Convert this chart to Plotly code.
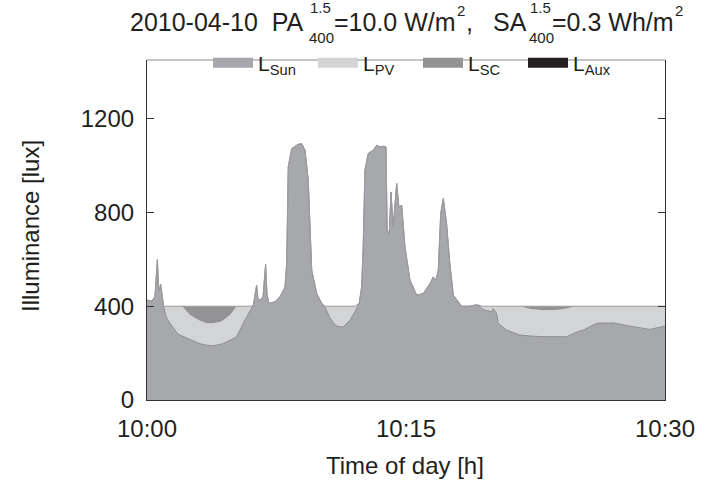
import plotly.graph_objects as go

# minutes after 10:00
t_min = [0.00, 0.27, 0.46, 0.60, 0.67, 0.71, 0.79, 0.91, 0.96, 1.10, 1.33, 1.81, 1.97, 2.10,
         2.49, 2.78, 3.07, 3.46, 3.75, 3.82, 4.23, 4.42, 4.81, 5.19, 5.67, 6.06, 6.16, 6.35,
         6.43, 6.54, 6.72, 6.87, 6.95, 7.06, 7.41, 7.70, 7.89, 7.99, 8.09, 8.18, 8.38, 8.57,
         8.74, 8.96, 9.15, 9.34, 9.54, 9.83, 10.12, 10.31, 10.60, 10.89, 11.18, 11.37, 11.75,
         12.04, 12.29, 12.43, 12.52, 12.62, 12.81, 13.10, 13.30, 13.49, 13.68, 13.84, 13.91,
         14.03, 14.13, 14.26, 14.46, 14.59, 14.75, 14.94, 15.23, 15.62, 16.00, 16.39, 16.58,
         16.73, 16.87, 17.01, 17.16, 17.35, 17.54, 17.74, 18.03, 18.22, 18.70, 18.99, 19.18,
         19.40, 19.57, 19.96, 20.05, 20.25, 20.34, 20.83, 21.48, 21.60, 22.18, 22.57, 22.93,
         23.91, 24.30, 24.90, 25.26, 26.04, 27.00, 27.97, 29.12, 30.00]

L_sun = [426, 422, 440, 599, 480, 468, 494, 405, 400, 355, 327, 280, 275, 270,
         258, 248, 240, 234, 230, 231, 237, 241, 255, 270, 341, 392, 405, 490,
         430, 426, 440, 579, 450, 412, 419, 440, 468, 480, 583, 994, 1072, 1082,
         1090, 1093, 1065, 937, 554, 454, 412, 397, 350, 320, 312, 312, 340,
         376, 412, 483, 653, 980, 1051, 1065, 1086, 1080, 1082, 1079, 724,
         710, 887, 738, 923, 823, 830, 653, 511, 447, 454, 497, 525,
         511, 554, 795, 859, 752, 582, 447, 419, 400, 400, 405, 405,
         390, 383, 376, 390, 369, 327, 298, 280, 277, 273, 270, 270,
         270, 270, 290, 298, 327, 329, 315, 301, 315]

L_pv = [0, 0, 0, 0, 0, 0, 0, 0, 0, 45, 73, 120, 125, 125,
        104, 102, 98, 93, 96, 96, 96, 99, 107, 130, 59, 8, 0, 0,
        0, 0, 0, 0, 0, 0, 0, 0, 0, 0, 0, 0, 0, 0,
        0, 0, 0, 0, 0, 0, 0, 3, 50, 80, 88, 88, 60,
        24, 0, 0, 0, 0, 0, 0, 0, 0, 0, 0, 0,
        0, 0, 0, 0, 0, 0, 0, 0, 0, 0, 0, 0,
        0, 0, 0, 0, 0, 0, 0, 0, 0, 0, 0, 0,
        10, 17, 24, 10, 31, 73, 102, 120, 123, 115, 114, 113,
        115, 120, 110, 102, 73, 71, 85, 99, 85]

L_sc = [0, 0, 0, 0, 0, 0, 0, 0, 0, 0, 0, 0, 0, 5,
        38, 50, 62, 73, 74, 73, 67, 60, 38, 0, 0, 0, 0, 0,
        0, 0, 0, 0, 0, 0, 0, 0, 0, 0, 0, 0, 0, 0,
        0, 0, 0, 0, 0, 0, 0, 0, 0, 0, 0, 0, 0,
        0, 0, 0, 0, 0, 0, 0, 0, 0, 0, 0, 0,
        0, 0, 0, 0, 0, 0, 0, 0, 0, 0, 0, 0,
        0, 0, 0, 0, 0, 0, 0, 0, 0, 0, 0, 0,
        0, 0, 0, 0, 0, 0, 0, 0, 0, 12, 16, 17,
        15, 10, 0, 0, 0, 0, 0, 0, 0]

L_aux = [0] * len(t_min)

series_names = ["L<sub>Sun</sub>", "L<sub>PV</sub>", "L<sub>SC</sub>", "L<sub>Aux</sub>"]
series_colors = ["#a7a8ab", "#d3d4d6", "#939396", "#231f20"]

x_ticks = [0, 15, 30]
x_ticktext = ["10:00", "10:15", "10:30"]
y_ticks = [0, 400, 800, 1200]

FONT = "Liberation Sans, Arial, sans-serif"
TXT = "#231f20"
W, H = 713, 482
ML, MR, MT, MB = 147, 48, 60, 82
PW, PH = W - ML - MR, H - MT - MB


def px_x(px):
    return (px - ML) / PW


def px_y(py):
    return (H - MB - py) / PH


fig = go.Figure()
line_styles = [dict(color="#8c8c8f", width=1), dict(color="#d3d4d6", width=0),
               dict(color="#9c9c9e", width=1), dict(color="#231f20", width=0)]
for vals, name, col, ls in zip([L_sun, L_pv, L_sc, L_aux], series_names, series_colors, line_styles):
    fig.add_trace(go.Scatter(x=t_min, y=vals, stackgroup="one", mode="lines",
                             line=ls, fillcolor=col, name=name, showlegend=False))
# legend swatches
for name, col in zip(series_names, series_colors):
    fig.add_trace(go.Scatter(x=[None], y=[None], mode="lines", name=name,
                             line=dict(color=col, width=12), showlegend=True))

fig.update_layout(
    width=W, height=H,
    margin=dict(l=ML, r=MR, t=MT, b=MB, autoexpand=False),
    paper_bgcolor="white", plot_bgcolor="white",
    font=dict(family=FONT, size=24, color=TXT),
    showlegend=True,
    legend=dict(orientation="h", x=px_x(208), xanchor="left", y=px_y(63), yanchor="middle",
                bgcolor="rgba(0,0,0,0)", font=dict(size=21), itemwidth=40,
                entrywidth=50, entrywidthmode="pixels", traceorder="normal"),
    xaxis=dict(range=[0, 30], tickmode="array", tickvals=x_ticks, ticktext=x_ticktext,
               showgrid=False, zeroline=False, showline=True, linecolor="#333333",
               linewidth=1.2, ticks="", mirror=False, automargin=False,
               ticklabelstandoff=7),
    yaxis=dict(range=[0, 1450], tickmode="array", tickvals=y_ticks,
               showgrid=False, zeroline=False, showline=True, linecolor="#333333",
               linewidth=1.2, ticks="inside", ticklen=7, tickcolor="#333333",
               mirror="ticks", ticklabelstandoff=7, automargin=False),
)

# top frame line (lighter)
fig.add_shape(type="line", xref="paper", yref="paper", x0=0, x1=1, y0=1, y1=1,
              line=dict(color="#8a8a8a", width=1.2))

# axis titles
fig.add_annotation(text="Illuminance [lux]", xref="paper", yref="paper",
                   x=px_x(30), y=px_y(226), textangle=-90, showarrow=False,
                   xanchor="center", yanchor="middle", font=dict(size=24, color=TXT))
fig.add_annotation(text="Time of day [h]", xref="paper", yref="paper",
                   x=px_x(405), y=px_y(465), showarrow=False,
                   xanchor="center", yanchor="middle", font=dict(size=24, color=TXT))

# title built from pieces to stack super/subscripts
NB = "\u00a0"
title_parts = [
    ("2010-04-10" + NB + NB + "PA", 130, 22, 25),
    ("1.5", 310, 7, 15),
    ("400", 309, 37, 15),
    ("=10.0 W/m", 334, 22, 25),
    ("2", 457, 10, 15),
    (",", 466, 22, 25),
    ("SA", 493, 22, 25),
    ("1.5", 530, 7, 15),
    ("400", 529, 37, 15),
    ("=0.3 Wh/m", 552, 22, 25),
    ("2", 675, 10, 15),
]
for txt, x, y, s in title_parts:
    fig.add_annotation(text=txt, xref="paper", yref="paper", x=px_x(x), y=px_y(y),
                       xanchor="left", yanchor="middle", showarrow=False,
                       borderpad=0, borderwidth=0,
                       font=dict(family=FONT, size=s, color=TXT))

fig.write_html("out.html", config={"displayModeBar": False},
               post_script="document.body.style.margin='0px';document.body.style.padding='0px';")
